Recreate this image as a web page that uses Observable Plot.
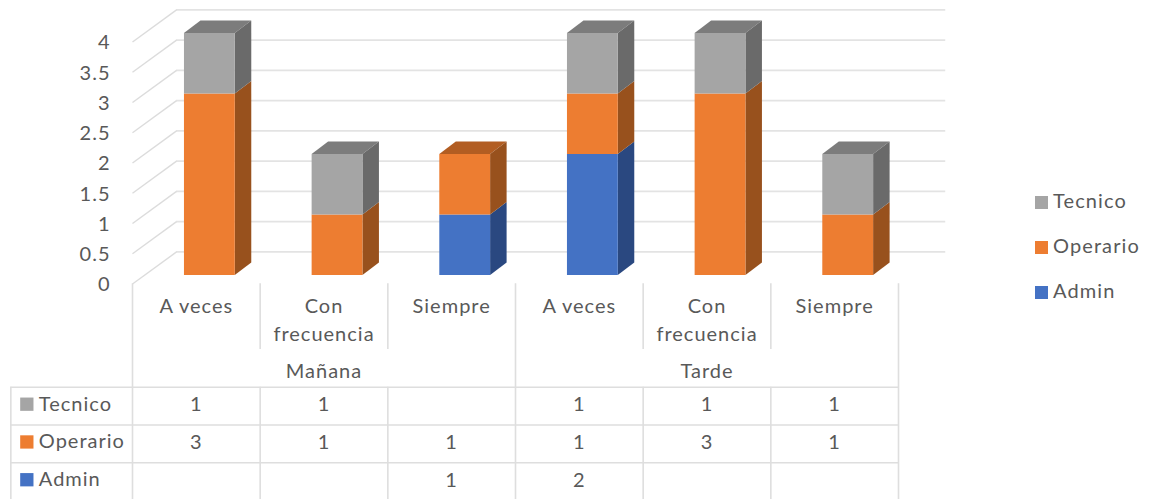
<!DOCTYPE html>
<html lang="es">
<head>
<meta charset="utf-8">
<style>
  html, body { margin: 0; padding: 0; background: #fff; }
  #page { position: relative; width: 1150px; height: 499px; overflow: hidden; font-family: Lato, sans-serif; }
  #page svg { display: block; }
  #page svg text { letter-spacing: 1px; }
  #legend { position: absolute; left: 1035px; top: 0; color: #595959; font-size: 20px; letter-spacing: 1.1px; }
  #legend div { position: absolute; left: 0; white-space: nowrap; line-height: 20px; padding-left: 18px; }
  #legend i { position: absolute; left: 0; top: 6px; width: 12.5px; height: 13px; }
</style>
</head>
<body>
<div id="page"><div id="chart"></div><div id="table"></div><div id="legend"></div></div>
<script src="https://cdn.jsdelivr.net/npm/d3@7"></script>
<script src="https://cdn.jsdelivr.net/npm/@observablehq/plot@0.6"></script>
<script>
const categories = ["A veces", "Con\nfrecuencia", "Siempre", "A veces", "Con\nfrecuencia", "Siempre"];
const groups = ["Mañana", "Tarde"];
const series = ["Admin", "Operario", "Tecnico"];
const admin = [null, null, 1, 2, null, null];
const operario = [3, 1, 1, 1, 3, 1];
const tecnico = [1, 1, null, 1, 1, 1];
const ticks = [0, 0.5, 1, 1.5, 2, 2.5, 3, 3.5, 4];
const frontColors = ["#4472c4", "#ed7d31", "#a5a5a5"];
const sideColors = ["#2a4880", "#98511d", "#6a6a6a"];
const topColors = ["#315493", "#b25d22", "#7c7c7c"];

const values = [admin, operario, tecnico];
const segments = [];
categories.forEach((c, col) => {
  let base = 0;
  series.forEach((s, k) => {
    const v = values[k][col];
    if (v == null) return;
    segments.push({col, s, k, y1: base, y2: base + v, value: v});
    base += v;
  });
});
const tops = segments.filter(d => !segments.some(e => e.col === d.col && e.y1 === d.y2));

const depthX = 16.5, depthY = 12.5;
function extrude(shape) {
  return (index, scales, vals, dims, ctx, next) => {
    const g = next(index, scales, vals, dims, ctx);
    g.querySelectorAll("rect").forEach(r => {
      const x = +r.getAttribute("x"), y = +r.getAttribute("y"),
            w = +r.getAttribute("width"), h = +r.getAttribute("height");
      const pts = shape === "side"
        ? [[x + w, y], [x + w + depthX, y - depthY], [x + w + depthX, y + h - depthY], [x + w, y + h]]
        : [[x, y], [x + depthX, y - depthY], [x + w + depthX, y - depthY], [x + w, y]];
      const p = document.createElementNS("http://www.w3.org/2000/svg", "polygon");
      p.setAttribute("points", pts.join(" "));
      p.setAttribute("fill", r.getAttribute("fill"));
      r.replaceWith(p);
    });
    return g;
  };
}

const font = {fontFamily: "Lato, sans-serif", background: "transparent", overflow: "visible"};
const grey = "#595959";
const xScale = {type: "linear", domain: [0, 6], range: [132, 898]};

const barX1 = d => d.col + 0.407;
const barX2 = d => d.col + 0.805;

const chart = Plot.plot({
  width: 1150, height: 283,
  marginTop: 0, marginBottom: 0, marginLeft: 0, marginRight: 0,
  x: {...xScale, axis: null},
  y: {type: "linear", domain: [0, 4], range: [275, 33], axis: null},
  color: {domain: series, range: frontColors},
  style: font,
  marks: [
    Plot.ruleY(ticks, {y: d => d + 0.39, x1: 0.345, x2: 6.37, stroke: "#e3e3e3", strokeWidth: 1.8}),
    Plot.link(ticks, {x1: 0, x2: 0.345, y1: d => d - 0.14, y2: d => d + 0.39, stroke: "#dcdcdc", strokeWidth: 1.4}),
    Plot.text(ticks, {x: 0, y: d => d - 0.155, text: d => String(d), textAnchor: "end", dx: -22, fontSize: 20, fill: grey}),
    Plot.rect(tops, {x1: barX1, x2: barX2, y1: "y1", y2: "y2", fill: {value: d => topColors[d.k], scale: null}, render: extrude("top")}),
    Plot.rect(segments, {x1: barX1, x2: barX2, y1: "y1", y2: "y2", fill: {value: d => sideColors[d.k], scale: null}, render: extrude("side")}),
    Plot.rect(segments, {x1: barX1, x2: barX2, y1: "y1", y2: "y2", fill: "s"})
  ]
});
document.getElementById("chart").append(chart);

const rows = ["Tecnico", "Operario", "Admin"];
const rowValues = [tecnico, operario, admin];
const rowColors = ["#a5a5a5", "#ed7d31", "#4472c4"];
const cells = [];
rows.forEach((r, ri) => rowValues[ri].forEach((v, col) => { if (v != null) cells.push({ri, col, v}); }));
const cols = d3.range(7);
const lineStyle = {stroke: "#dedede", strokeWidth: 1.6};

const table = Plot.plot({
  width: 1150, height: 216,
  marginTop: 0, marginBottom: 0, marginLeft: 0, marginRight: 0,
  x: {...xScale, axis: null},
  y: {type: "linear", domain: [0, 3], range: [103.7, 217], axis: null},
  style: font,
  marks: [
    Plot.ruleX(cols.filter(d => d % 3 === 0), {x: d => d, y1: -2.74, y2: 3, ...lineStyle}),
    Plot.ruleX(cols.filter(d => d % 3 !== 0), {x: d => d, y1: -2.74, y2: -1, ...lineStyle}),
    Plot.ruleX(cols.filter(d => d % 3 !== 0), {x: d => d, y1: 0, y2: 3, ...lineStyle}),
    Plot.ruleX([-0.953], {y1: 0, y2: 3, ...lineStyle}),
    Plot.ruleY([0, 1, 2, 3], {x1: -0.953, x2: 6, ...lineStyle}),
    Plot.text(categories, {x: (d, i) => i + 0.5, y: -2.74, dy: 9, text: d => d, lineAnchor: "top", lineHeight: 1.42, fontSize: 20, fill: grey}),
    Plot.text(groups, {x: (d, i) => i * 3 + 1.5, y: -0.5, dy: 3, text: d => d, fontSize: 20, fill: grey}),
    Plot.dot(rows, {x: -0.953, y: (d, i) => i + 0.45, dx: 16, symbol: "square", r: 7.5, stroke: null, fill: (d, i) => rowColors[i]}),
    Plot.text(rows, {x: -0.953, y: (d, i) => i + 0.45, dx: 28, text: d => d, textAnchor: "start", fontSize: 20, fill: grey}),
    Plot.text(cells, {x: d => d.col + 0.5, y: d => d.ri + 0.47, text: d => String(d.v), fontSize: 20, fill: grey})
  ]
});
document.getElementById("table").append(table);

const legend = document.getElementById("legend");
rows.forEach((r, i) => {
  const item = document.createElement("div");
  item.style.top = (190 + i * 45) + "px";
  const sw = document.createElement("i");
  sw.style.background = rowColors[i];
  item.append(sw, r);
  legend.append(item);
});
</script>
</body>
</html>
